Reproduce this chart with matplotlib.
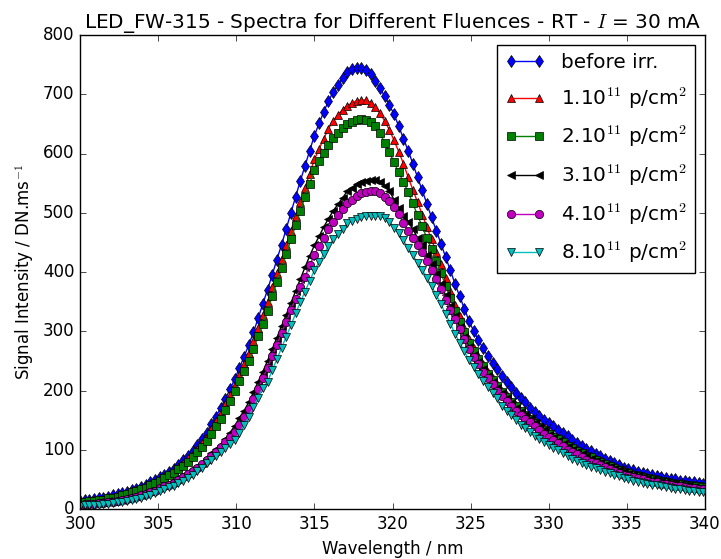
import numpy as np
import matplotlib
matplotlib.use('Agg')
import matplotlib.pyplot as plt

# wavelength grid of the spectrometer (nm)
wavelength = [
    300.0, 300.3, 300.6, 300.9, 301.2, 301.5, 301.8, 302.1, 302.4, 302.7,
    303.0, 303.3, 303.6, 303.9, 304.2, 304.5, 304.8, 305.1, 305.4, 305.7,
    306.0, 306.3, 306.6, 306.9, 307.2, 307.5, 307.8, 308.1, 308.4, 308.7,
    309.0, 309.3, 309.6, 309.9, 310.2, 310.5, 310.8, 311.1, 311.4, 311.7,
    312.0, 312.3, 312.6, 312.9, 313.2, 313.5, 313.8, 314.1, 314.4, 314.7,
    315.0, 315.3, 315.6, 315.9, 316.2, 316.5, 316.8, 317.1, 317.4, 317.7,
    318.0, 318.3, 318.6, 318.9, 319.2, 319.5, 319.8, 320.1, 320.4, 320.7,
    321.0, 321.3, 321.6, 321.9, 322.2, 322.5, 322.8, 323.1, 323.4, 323.7,
    324.0, 324.3, 324.6, 324.9, 325.2, 325.5, 325.8, 326.1, 326.4, 326.7,
    327.0, 327.3, 327.6, 327.9, 328.2, 328.5, 328.8, 329.1, 329.4, 329.7,
    330.0, 330.3, 330.6, 330.9, 331.2, 331.5, 331.8, 332.1, 332.4, 332.7,
    333.0, 333.3, 333.6, 333.9, 334.2, 334.5, 334.8, 335.1, 335.4, 335.7,
    336.0, 336.3, 336.6, 336.9, 337.2, 337.5, 337.8, 338.1, 338.4, 338.7,
    339.0, 339.3, 339.6, 339.9]

# signal intensity (DN/ms) for each fluence
before_irr = [
    14, 15, 16, 17, 18, 19, 21, 23, 25, 27,
    29, 32, 34, 37, 40, 45, 49, 54, 58, 63,
    68, 75, 82, 90, 98, 108, 118, 129, 143, 156,
    170, 186, 202, 219, 238, 257, 277, 298, 322, 346,
    370, 395, 421, 446, 473, 500, 527, 554, 579, 605,
    630, 651, 670, 689, 703, 715, 727, 737, 742, 745,
    744, 741, 735, 723, 710, 697, 682, 666, 646, 625,
    605, 583, 560, 538, 515, 492, 470, 448, 425, 403,
    380, 359, 338, 317, 300, 285, 271, 258, 247, 236,
    225, 215, 206, 196, 188, 180, 171, 164, 157, 151,
    145, 140, 134, 129, 123, 117, 112, 107, 102, 98,
    93, 89, 85, 81, 78, 74, 70, 68, 66, 63,
    61, 59, 57, 55, 54, 52, 51, 50, 48, 47,
    46, 45, 44, 43]

fluence_1e11 = [
    12, 13, 14, 15, 16, 17, 19, 20, 22, 24,
    27, 30, 32, 35, 38, 42, 46, 50, 55, 59,
    64, 71, 78, 86, 93, 102, 111, 122, 135, 148,
    162, 177, 193, 209, 227, 245, 263, 283, 305, 328,
    350, 374, 398, 422, 446, 470, 494, 518, 542, 566,
    590, 608, 625, 642, 655, 665, 674, 681, 685, 689,
    690, 690, 686, 679, 668, 655, 640, 622, 603, 583,
    560, 539, 518, 497, 476, 455, 434, 413, 390, 368,
    345, 326, 306, 287, 271, 258, 244, 231, 221, 211,
    200, 192, 183, 175, 166, 160, 154, 148, 141, 136,
    130, 125, 120, 115, 109, 105, 100, 96, 92, 89,
    85, 81, 78, 74, 71, 68, 65, 62, 60, 58,
    56, 54, 52, 51, 49, 48, 46, 45, 44, 43,
    41, 40, 39, 38]

fluence_2e11 = [
    11, 12, 13, 14, 15, 16, 18, 19, 21, 23,
    25, 28, 30, 33, 36, 40, 44, 48, 52, 57,
    61, 67, 73, 80, 87, 96, 105, 115, 127, 140,
    152, 167, 183, 199, 216, 233, 250, 270, 292, 313,
    335, 359, 383, 407, 431, 455, 479, 503, 527, 549,
    572, 587, 601, 615, 626, 635, 643, 650, 654, 657,
    658, 657, 654, 646, 634, 618, 602, 585, 568, 552,
    535, 516, 496, 477, 457, 438, 418, 398, 377, 356,
    335, 316, 298, 280, 266, 254, 241, 228, 218, 207,
    197, 189, 181, 173, 165, 158, 152, 145, 139, 133,
    127, 122, 118, 113, 107, 103, 98, 94, 90, 87,
    83, 79, 76, 72, 69, 66, 63, 60, 58, 56,
    54, 52, 50, 49, 47, 45, 44, 43, 42, 41,
    40, 39, 38, 37]

fluence_3e11 = [
    8, 9, 9, 10, 11, 12, 13, 14, 15, 16,
    18, 20, 22, 24, 27, 30, 33, 37, 40, 44,
    47, 52, 57, 61, 67, 73, 78, 86, 94, 102,
    108, 118, 129, 140, 154, 166, 180, 197, 215, 232,
    250, 270, 289, 309, 328, 348, 368, 388, 408, 427,
    445, 460, 476, 490, 503, 514, 525, 536, 542, 548,
    552, 554, 556, 556, 552, 545, 537, 522, 508, 494,
    485, 472, 458, 445, 429, 413, 396, 379, 361, 343,
    325, 308, 291, 273, 260, 248, 236, 224, 214, 205,
    195, 187, 179, 171, 164, 158, 152, 145, 139, 133,
    125, 120, 115, 110, 104, 100, 96, 92, 88, 84,
    81, 78, 74, 71, 68, 65, 62, 59, 57, 55,
    53, 51, 49, 48, 46, 45, 43, 42, 41, 40,
    38, 37, 36, 35]

fluence_4e11 = [
    7, 8, 8, 9, 10, 10, 11, 12, 14, 15,
    17, 19, 21, 23, 26, 29, 31, 35, 38, 41,
    44, 49, 54, 59, 64, 70, 76, 83, 90, 97,
    104, 113, 121, 130, 141, 155, 169, 186, 203, 221,
    238, 258, 277, 297, 316, 336, 355, 374, 392, 411,
    429, 444, 458, 473, 485, 496, 507, 517, 522, 528,
    533, 535, 537, 536, 533, 527, 520, 510, 498, 482,
    470, 458, 446, 433, 418, 403, 388, 371, 353, 336,
    320, 303, 287, 270, 257, 245, 232, 221, 211, 200,
    190, 182, 174, 166, 158, 152, 147, 140, 133, 127,
    121, 116, 111, 106, 100, 96, 92, 87, 83, 80,
    78, 74, 71, 68, 64, 61, 58, 56, 54, 52,
    50, 48, 46, 45, 43, 42, 40, 39, 38, 37,
    36, 35, 34, 33]

fluence_8e11 = [
    5, 6, 6, 7, 7, 8, 9, 10, 11, 12,
    14, 16, 17, 19, 22, 24, 27, 30, 33, 37,
    39, 44, 48, 53, 58, 64, 70, 77, 83, 90,
    96, 103, 110, 117, 129, 142, 155, 172, 188, 204,
    215, 234, 253, 272, 291, 310, 330, 349, 367, 385,
    403, 417, 430, 444, 455, 464, 473, 482, 486, 490,
    492, 494, 495, 495, 494, 491, 485, 475, 465, 454,
    440, 428, 416, 404, 390, 376, 361, 346, 329, 313,
    296, 281, 266, 251, 240, 228, 216, 206, 196, 187,
    174, 166, 158, 150, 142, 136, 130, 124, 118, 113,
    108, 103, 99, 95, 89, 85, 81, 78, 74, 71,
    69, 66, 63, 60, 57, 55, 52, 50, 48, 46,
    44, 43, 41, 40, 38, 37, 35, 34, 33, 32,
    31, 30, 29, 28]

labels = ['before irr.',
          r'1.10$^{11}$ p/cm$^2$',
          r'2.10$^{11}$ p/cm$^2$',
          r'3.10$^{11}$ p/cm$^2$',
          r'4.10$^{11}$ p/cm$^2$',
          r'8.10$^{11}$ p/cm$^2$']

# old matplotlib look
plt.style.use('classic')

fig = plt.figure(figsize=(7.21, 5.59), dpi=100)
fig.subplots_adjust(left=80/721., right=705/721., top=1-35/559., bottom=1-509/559.)
ax = fig.add_subplot(111)

series = [before_irr, fluence_1e11, fluence_2e11,
          fluence_3e11, fluence_4e11, fluence_8e11]
styles = ['bd-', 'r^-', 'gs-', 'k<-', 'mo-', 'cv-']

for values, style, label in zip(series, styles, labels):
    ax.plot(wavelength, values, style, label=label, markersize=6)

ax.set_xlim(300, 340)
ax.set_ylim(0, 800)
ax.set_xticks(np.arange(300, 341, 5))
ax.set_yticks(np.arange(0, 801, 100))

ax.set_title(r'LED_FW-315 - Spectra for Different Fluences - RT - $I$ = 30 mA')
ax.set_xlabel('Wavelength / nm')
ax.set_ylabel(r'Signal Intensity / DN.ms$^{-1}$')

ax.legend(loc='upper right', numpoints=2, labelspacing=0.66)

fig.savefig('out.png', dpi=100)
